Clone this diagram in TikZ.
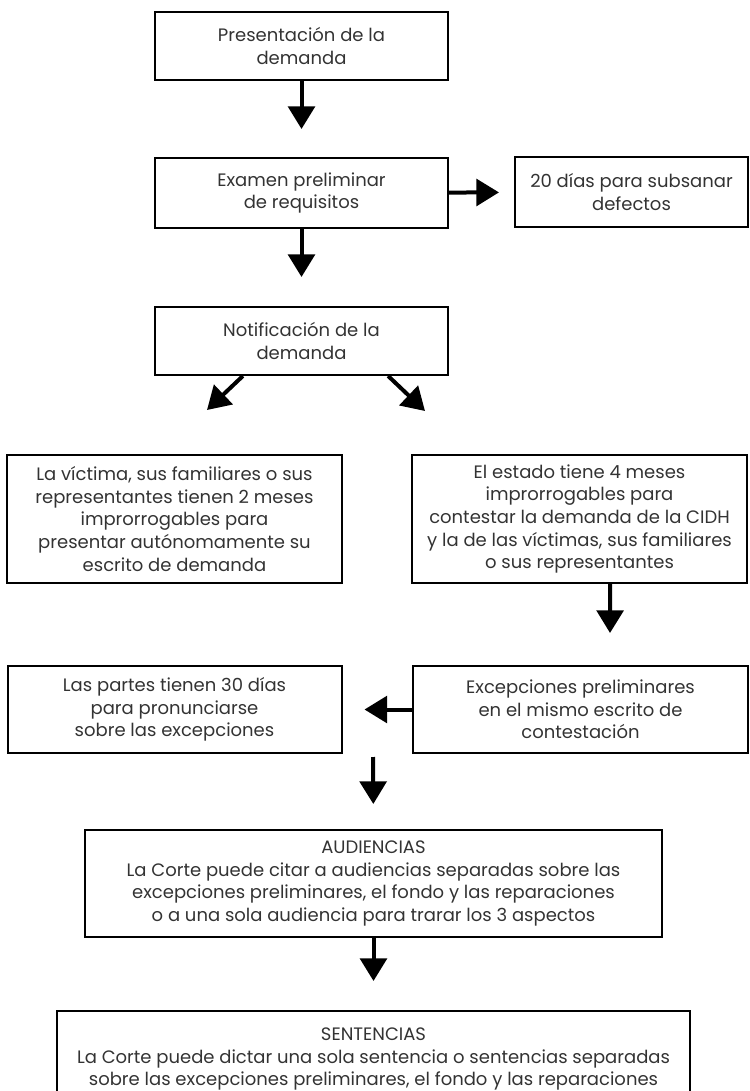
\documentclass[tikz,border=0pt]{standalone}
\usepackage{fontspec}
\setmainfont{Poppins}
\usetikzlibrary{arrows.meta}

\tikzstyle{block} = [rectangle, line width=1.5pt, draw=black, text=black!80, text centered, align=center, inner sep=2pt, font=\fontsize{13.5}{17}\selectfont]
\tikzstyle{arrow} = [line width=3pt,-{Triangle[length=17pt,width=20pt]}]

\begin{document}
\begin{tikzpicture}[x=0.75pt, y=-0.75pt]
\useasboundingbox (0,0) rectangle (749,1091);
\clip (0,0) rectangle (749,1091);

\node (pdemanda) [block, minimum width=219.75pt, minimum height=51pt] at (301.5,46) {Presentación de la\\demanda};
\node (erequisitos) [block, minimum width=219.75pt, minimum height=52.5pt] at (301.5,193) {Examen preliminar\\de requisitos};
\node (sdefectos) [block, minimum width=174.75pt, minimum height=52.5pt] at (631.5,192) {20 días para subsanar\\defectos};
\node (ndemanda) [block, minimum width=219.75pt, minimum height=51pt] at (301.5,341) {Notificación de la\\demanda};
\node (vfamiliares) [block, minimum width=251.25pt, minimum height=96pt] at (174.5,519) {La víctima, sus familiares o sus\\representantes tienen 2 meses\\improrrogables para\\presentar autónomamente su\\escrito de demanda};
\node (econtesta) [block, minimum width=251.25pt, minimum height=96pt] at (579.5,519) {El estado tiene 4 meses\\improrrogables para\\contestar la demanda de la CIDH\\y la de las víctimas, sus familiares\\o sus representantes};
\node (ppartes) [block, minimum width=250.5pt, minimum height=65.25pt] at (174.5,709.5) {Las partes tienen 30 días\\para pronunciarse\\sobre las excepciones};
\node (epreliminares) [block, minimum width=251.25pt, minimum height=65.25pt] at (580.5,709.5) {Excepciones preliminares\\en el mismo escrito de\\contestación};
\node (audiencias) [block, minimum width=432.75pt, minimum height=80.25pt] at (373.5,883.5) {AUDIENCIAS\\La Corte puede citar a audiencias separadas sobre las\\excepciones preliminares, el fondo y las reparaciones\\o a una sola audiencia para trarar los 3 aspectos};
\node (sentencias) [block, minimum width=474.75pt, minimum height=72pt] at (373.5,1059) {SENTENCIAS\\La Corte puede dictar una sola sentencia o sentencias separadas\\sobre las excepciones preliminares, el fondo y las reparaciones};

\coordinate (izq) at (207,410);
\coordinate (der) at (425,411);
\coordinate (baja) at (610,633);
\coordinate (sube) at (373,757);

\draw [arrow, shorten >=21pt] (pdemanda) -- (erequisitos);
\draw [arrow, shorten >=11.25pt] (erequisitos) -- (sdefectos);
\draw [arrow, shorten >=21.75pt] (erequisitos) -- (ndemanda);
\draw [arrow] ([xshift=-44pt]ndemanda.south) -- (izq);
\draw [arrow] ([xshift=65pt]ndemanda.south) -- (der);
\draw [arrow] ([xshift=23pt]econtesta.south) -- (baja);
\draw [arrow, shorten >=16.5pt] (epreliminares.west) -- (ppartes.east);
\draw [arrow, shorten >=18.75pt] (sube) -- (audiencias.north);
\draw [arrow, shorten >=21.75pt] (audiencias) -- (sentencias);
\end{tikzpicture}
\end{document}
